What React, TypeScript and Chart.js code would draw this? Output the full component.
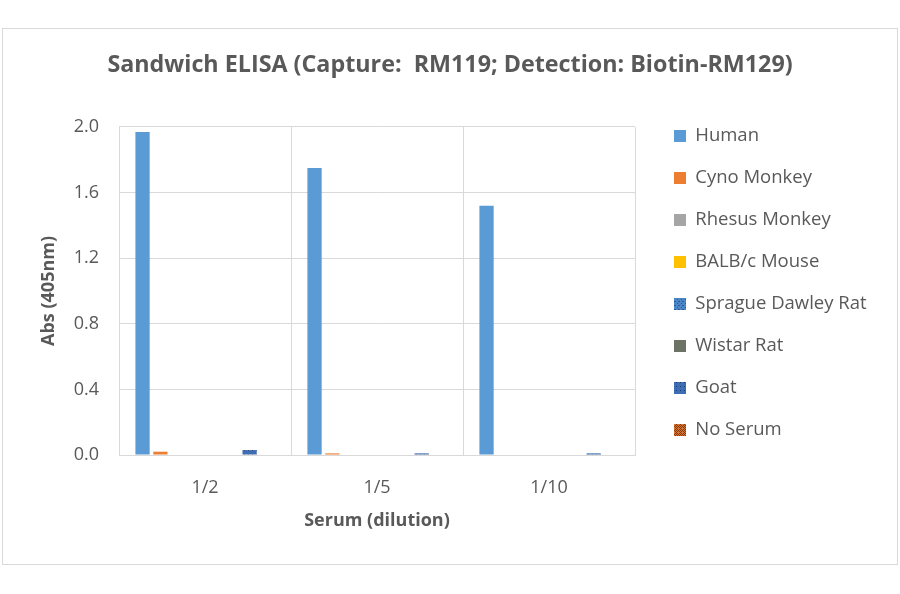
import { useEffect, useRef } from "react";
import { Chart, registerables } from "chart.js";

Chart.register(...registerables);

const dilutions = ["1/2", "1/5", "1/10"];
const species = [
  "Human",
  "Cyno Monkey",
  "Rhesus Monkey",
  "BALB/c Mouse",
  "Sprague Dawley Rat",
  "Wistar Rat",
  "Goat",
  "No Serum",
];
const human = [1.97, 1.75, 1.52];
const cynoMonkey = [0.02, 0.01, 0];
const rhesusMonkey = [0, 0, 0];
const balbcMouse = [0, 0, 0];
const spragueDawleyRat = [0, 0, 0];
const wistarRat = [0, 0, 0];
const goat = [0.03, 0.01, 0.01];
const noSerum = [0, 0, 0];
const yTicks = [0, 0.4, 0.8, 1.2, 1.6, 2.0];

const seriesValues = [human, cynoMonkey, rhesusMonkey, balbcMouse, spragueDawleyRat, wistarRat, goat, noSerum];

const FONT = "'Open Sans', 'Liberation Sans', sans-serif";
const TEXT = "#595959";
const GRID = "#d9d9d9";

const CANVAS_W = 894;
const CANVAS_H = 535;
const LEGEND_FONT = 18.5;
const LEGEND_PAD = 23.5;
const LEGEND_BOX = 12;
const LEGEND_BOX_X = 671; // where the legend squares start, in canvas px
const PLOT_LEFT = 116;
const PLOT_RIGHT = 632;

// small canvas patterns, like Excel's patterned fills
function makePattern(base: string, dot: string, kind: "dots" | "check" | "speck"): CanvasPattern | string {
  const c = document.createElement("canvas");
  c.width = 4;
  c.height = 4;
  const g = c.getContext("2d");
  if (!g) return base;
  g.fillStyle = base;
  g.fillRect(0, 0, 4, 4);
  g.fillStyle = dot;
  if (kind === "check") {
    g.fillRect(0, 0, 1, 1);
    g.fillRect(2, 0, 1, 1);
    g.fillRect(1, 1, 1, 1);
    g.fillRect(3, 1, 1, 1);
    g.fillRect(0, 2, 1, 1);
    g.fillRect(2, 2, 1, 1);
    g.fillRect(1, 3, 1, 1);
  } else if (kind === "dots") {
    g.fillRect(0, 0, 1, 1);
    g.fillRect(2, 2, 1, 1);
    g.fillRect(3, 0, 1, 1);
  } else {
    g.fillRect(1, 1, 1, 1);
  }
  const p = g.createPattern(c, "repeat");
  return p || base;
}

// Chart.js caps a side legend at a quarter of the width; let it take what its labels need
const wideLegend = {
  id: "wideLegend",
  beforeLayout(chart: any) {
    const lg = chart.legend;
    if (!lg || lg._wide) return;
    const fit = lg.fit;
    lg.fit = function (this: any) {
      fit.call(this);
      if (this.columnSizes && this.columnSizes.length) {
        this.width = this.options.labels.padding + this.columnSizes[0].width + 10;
      }
    };
    lg._wide = true;
  },
};

export default function App() {
  const chartRef = useRef<HTMLCanvasElement>(null);
  const chartInstance = useRef<Chart | null>(null);

  useEffect(() => {
    if (!chartRef.current) return;
    if (chartInstance.current) chartInstance.current.destroy();
    const ctx = chartRef.current.getContext("2d");
    if (!ctx) return;

    ctx.font = `${LEGEND_FONT}px ${FONT}`;
    const textW = Math.max(...species.map((s) => ctx.measureText(s).width));
    const legendW = LEGEND_PAD + LEGEND_BOX + LEGEND_FONT / 2 + textW + 10;
    const legendLeft = LEGEND_BOX_X - LEGEND_PAD;
    const padRight = CANVAS_W - legendLeft - legendW;
    // same padding on the left keeps the full-width title centred on the canvas
    const padLeft = padRight;
    const gapW = legendLeft - PLOT_RIGHT;

    const colors = [
      "#5b9bd5",
      "#ed7d31",
      "#a5a5a5",
      "#ffc000",
      makePattern("#4a86c8", "#2b5797", "dots"),
      "#6c7364",
      makePattern("#3d6db5", "#1f3864", "speck"),
      makePattern("#d9742f", "#7f3a10", "check"),
    ];

    chartInstance.current = new Chart(ctx, {
      type: "bar",
      data: {
        labels: dilutions,
        datasets: species.map((name, i) => ({
          label: name,
          data: seriesValues[i],
          backgroundColor: colors[i],
          borderWidth: 0,
          categoryPercentage: 0.83,
          barPercentage: 0.8,
        })),
      },
      plugins: [wideLegend],
      options: {
        animation: false,
        responsive: true,
        maintainAspectRatio: false,
        layout: { padding: { left: padLeft, right: padRight, top: 0, bottom: 0 } },
        plugins: {
          title: {
            display: true,
            text: "Sandwich ELISA (Capture:  RM119; Detection: Biotin-RM129)",
            color: TEXT,
            font: { family: FONT, size: 23.3, weight: "bold" },
            padding: { top: 22.2, bottom: 47.8 },
          },
          legend: {
            position: "right",
            align: "start",
            fullSize: true,
            title: {
              display: true,
              text: " ",
              color: "rgba(0,0,0,0)",
              font: { family: FONT, size: 12 },
              padding: { top: 0, bottom: 59.9 },
            },
            labels: {
              color: TEXT,
              font: { family: FONT, size: LEGEND_FONT },
              boxWidth: LEGEND_BOX,
              boxHeight: LEGEND_BOX,
              padding: LEGEND_PAD,
            },
          },
          tooltip: { enabled: false },
        },
        scales: {
          x: {
            afterFit: (s: any) => {
              s.height = 109;
            },
            grid: { color: GRID, drawTicks: false },
            border: { color: GRID },
            ticks: { color: TEXT, font: { family: FONT, size: 18 }, padding: 22 },
            title: {
              display: true,
              text: "Serum (dilution)",
              color: TEXT,
              font: { family: FONT, size: 18, weight: "bold" },
              padding: { top: 0, bottom: 32 },
            },
          },
          y: {
            min: 0,
            max: 2,
            afterFit: (s: any) => {
              s.width = PLOT_LEFT - padLeft;
            },
            afterBuildTicks: (s: any) => {
              s.ticks = yTicks.map((v) => ({ value: v }));
            },
            grid: { color: GRID, drawTicks: false },
            border: { color: GRID },
            ticks: {
              color: TEXT,
              font: { family: FONT, size: 18 },
              padding: 20,
              callback: (v: any) => Number(v).toFixed(1),
            },
            title: {
              display: true,
              text: "Abs (405nm)",
              color: TEXT,
              font: { family: FONT, size: 18, weight: "bold" },
              padding: { top: 35 - padLeft },
            },
          },
          // empty strip between the plot and the legend
          gap: {
            position: "right",
            display: false,
            afterFit: (s: any) => {
              s.width = gapW;
            },
          },
        },
      },
    } as any);

    return () => {
      if (chartInstance.current) {
        chartInstance.current.destroy();
        chartInstance.current = null;
      }
    };
  }, []);

  return (
    <div
      style={{
        position: "fixed",
        left: 2,
        top: 28,
        width: CANVAS_W,
        height: CANVAS_H,
        border: "1px solid #d9d9d9",
        background: "#fff",
      }}
    >
      <canvas ref={chartRef} />
    </div>
  );
}
